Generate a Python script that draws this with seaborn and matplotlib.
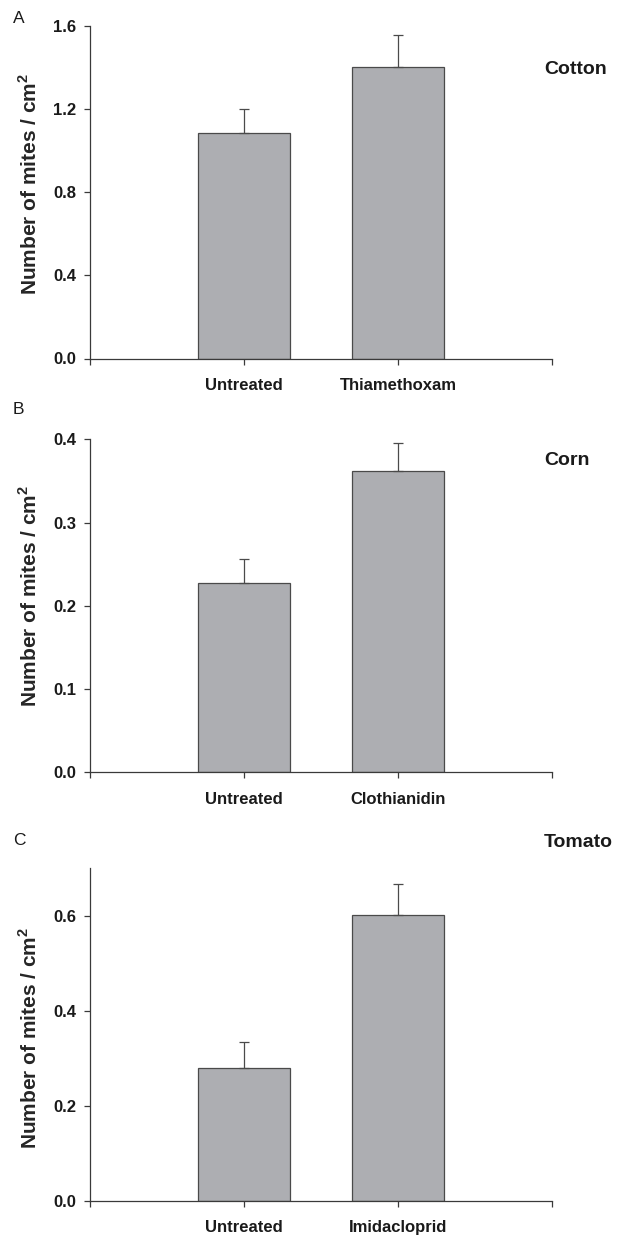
import matplotlib
matplotlib.use("Agg")
import matplotlib.pyplot as plt
import seaborn as sns
import pandas as pd
import numpy as np

# ---- data ----
treat_A = ["Untreated", "Thiamethoxam"]
mean_A = [1.085, 1.40]
se_A = [0.115, 0.155]

treat_B = ["Untreated", "Clothianidin"]
mean_B = [0.227, 0.362]
se_B = [0.029, 0.033]

treat_C = ["Untreated", "Imidacloprid"]
mean_C = [0.280, 0.601]
se_C = [0.054, 0.067]

crops = ["Cotton", "Corn", "Tomato"]
panel_letters = ["A", "B", "C"]
yticks_A = [0.0, 0.4, 0.8, 1.2, 1.6]
yticks_B = [0.0, 0.1, 0.2, 0.3, 0.4]
yticks_C = [0.0, 0.2, 0.4, 0.6]
ylims = [(0, 1.6), (0, 0.4), (0, 0.7)]

sns.set_theme(style="white")
plt.rcParams["font.family"] = ["Liberation Sans", "DejaVu Sans"]
plt.rcParams["mathtext.fontset"] = "custom"
plt.rcParams["mathtext.rm"] = "Liberation Sans:bold"
plt.rcParams["mathtext.bf"] = "Liberation Sans:bold"

W, H = 619, 1237
fig = plt.figure(figsize=(W / 100, H / 100), dpi=100)

panels = [
    (treat_A, mean_A, se_A, yticks_A, "%.1f", 358.5, 332.8, 0.524, 74, 23.3),
    (treat_B, mean_B, se_B, yticks_B, "%.1f", 772.3, 333.0, 0.528, 465, 414),
    (treat_C, mean_C, se_C, yticks_C, "%.1f", 1201.0, 332.7, 0.49, 846.7, 845),
]

bar_color = "#adaeb2"
edge_color = "#4a4a4a"
axis_color = "#3a3a3a"

for i, (treat, mean, se, yt, fmt, ybot, hgt, ylab_y, crop_base, letter_base) in enumerate(panels):
    ax = fig.add_axes([90 / W, 1 - ybot / H, 462 / W, hgt / H])
    df = pd.DataFrame({"treatment": treat, "mites": mean})
    sns.barplot(data=df, x="treatment", y="mites", order=treat, color=bar_color,
                saturation=1, width=0.6, edgecolor=edge_color, linewidth=0.9,
                errorbar=None, ax=ax)
    xs = [p.get_x() + p.get_width() / 2 for p in ax.patches]
    ax.errorbar(xs, mean, yerr=[np.zeros(len(se)), se], fmt="none",
                ecolor=edge_color, elinewidth=0.9, capsize=3.5, capthick=0.9)
    ax.set_xlim(-1, 2)
    ax.set_ylim(*ylims[i])
    ax.set_xticks([-1, 0, 1, 2])
    ax.set_xticklabels(["", treat[0], treat[1], ""], fontsize=12, fontweight="bold")
    ax.set_yticks(yt)
    ax.set_yticklabels([fmt % v for v in yt], fontsize=12, fontweight="bold")
    ax.set_xlabel("")
    ax.set_ylabel(r"Number of mites / cm$^{\mathbf{2}}$", fontsize=15, fontweight="bold")
    ax.yaxis.set_label_coords(-0.107, ylab_y)
    for s in ["top", "right"]:
        ax.spines[s].set_visible(False)
    for s in ["left", "bottom"]:
        ax.spines[s].set_color(axis_color)
        ax.spines[s].set_linewidth(0.9)
    ax.tick_params(axis="both", which="major", direction="out", length=4, width=0.9,
                   color=axis_color, labelcolor="#1a1a1a", left=True, bottom=True)
    ax.tick_params(axis="y", pad=6)
    ax.tick_params(axis="x", pad=10)
    ax.set_facecolor("white")

    fig.text(544 / W, 1 - crop_base / H, crops[i], fontsize=14, fontweight="bold",
             va="baseline", ha="left", color="#1a1a1a")
    fig.text(13 / W, 1 - letter_base / H, panel_letters[i], fontsize=12.5,
             va="baseline", ha="left", color="#1a1a1a")

fig.savefig("out.png", dpi=100, facecolor="white")
